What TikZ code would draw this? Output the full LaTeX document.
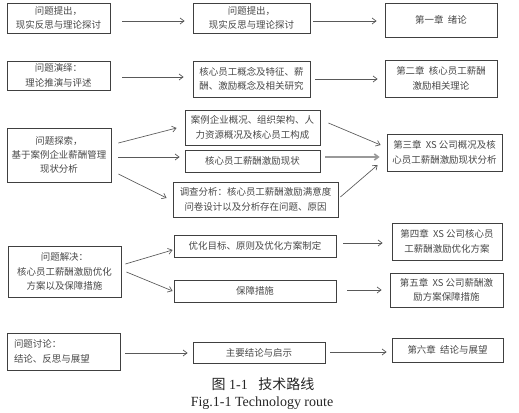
\documentclass[tikz,border=0pt]{standalone}
\usepackage{fontspec}
\setmainfont{Liberation Serif}
\newfontfamily\cjk{Noto Sans CJK SC}
\usetikzlibrary{arrows.meta,calc}
\tikzset{
  box/.style={draw=black!75, line width=0.6pt, inner sep=0pt, align=center,
    font=\cjk\fontsize{7.1}{10.8}\selectfont, text=black!72},
  arr/.style={draw=black!65, line width=0.5pt, -{Straight Barb[length=3pt,width=4.5pt]}},
  thickarr/.style={draw=black!40, line width=1.2pt, -{Straight Barb[length=3pt,width=4.5pt]}},
  captext/.style={inner sep=0pt, text=black!85}
}
\newcommand\rbox[6]{\node[box,minimum width={(#4-#2)*0.75pt},minimum height={(#5-#3)*0.75pt}] (#1) at ({(#2+#4)/2},{(#3+#5)/2}) {#6};}
\begin{document}
\begin{tikzpicture}[x=0.75pt,y=-0.75pt]
\useasboundingbox (0,0) rectangle (519,413);
% row 1
\rbox{A1}{7}{3}{110}{33}{问题提出，\\现实反思与理论探讨}
\rbox{B1}{193}{3}{310}{33}{问题提出，\\现实反思与理论探讨}
\rbox{C1}{385}{3}{497}{37}{第一章\ \ 绪论}
% row 2
\rbox{A2}{7}{61}{110}{90}{问题演绎：\\理论推演与评述}
\rbox{B2}{193}{61}{310}{97}{核心员工概念及特征、薪\\酬、激励概念及相关研究}
\rbox{C2}{385}{60}{497}{97}{第二章\ \ 核心员工薪酬\\激励相关理论}
% row 3
\rbox{A3}{7}{128}{111}{182}{问题探索，\\基于案例企业薪酬管理\\现状分析}
\rbox{B3a}{185}{110}{320}{145}{案例企业概况、组织架构、人\\力资源概况及核心员工构成}
\rbox{B3b}{185}{150}{320}{172}{核心员工薪酬激励现状}
\rbox{B3c}{173}{182}{338}{217}{调查分析：核心员工薪酬激励满意度\\问卷设计以及分析存在问题、原因}
\rbox{C3}{387}{134}{502}{171}{第三章\ \ XS 公司概况及核\\心员工薪酬激励现状分析}
% row 4
\rbox{A4}{8}{246}{121}{297}{问题解决：\\核心员工薪酬激励优化\\方案以及保障措施}
\rbox{B4a}{174}{235}{336}{257}{优化目标、原则及优化方案制定}
\rbox{B4b}{174}{280}{336}{302}{保障措施}
\rbox{C4a}{392}{223}{502}{260}{第四章\ \ XS 公司核心员\\工薪酬激励优化方案}
\rbox{C4b}{390}{273}{503}{307}{第五章\ \ XS 公司薪酬激\\励方案保障措施}
% row 5
\node[box, align=left, inner xsep={7*0.75pt}, text width={(113-14)*0.75pt}, minimum height={37*0.75pt}] (A5) at (63.5,351.5) {问题讨论：\\结论、反思与展望};
\rbox{B5}{193}{342}{325}{363}{主要结论与启示}
\rbox{C5}{392}{338}{503}{362}{第六章\ \ 结论与展望}
% arrows
\draw[arr] ($(A1.east)+(12,3)$) -- ($(B1.west)+(-8,3)$);
\draw[arr] ($(B1.east)+(3,3)$) -- ($(C1.west)+(-8,1)$);
\draw[arr] ($(A2.east)+(12,1.5)$) -- ($(B2.west)+(-9,-2)$);
\draw[arr] ($(B2.east)+(5,0)$) -- ($(C2.west)+(-7,0.5)$);
\draw[arr] ($(A3.east)+(7,-12)$) -- ($(B3a.west)+(-8,0.5)$);
\draw[arr] ($(A3.east)+(7,2)$) -- ($(B3b.west)+(-5,-4)$);
\draw[arr] ($(A3.east)+(7,19)$) -- ($(B3c.west)+(-6,-1.5)$);
\draw[arr] ($(B3a.east)+(8,-4.5)$) -- ($(C3.west)+(-6,-7.5)$);
\draw[thickarr] ($(B3b.east)+(5,-4)$) -- ($(C3.west)+(-7,4.5)$);
\draw[arr] ($(B3c.east)+(2,-2.5)$) -- ($(C3.west)+(-9,12.5)$);
\draw[arr] ($(A4.east)+(4,-7.5)$) -- ($(B4a.west)+(-1,4)$);
\draw[arr] ($(A4.east)+(5,0.5)$) -- ($(B4b.west)+(-1,0)$);
\draw[arr] ($(B4a.east)+(7,-3)$) -- ($(C4a.west)+(-9,1.5)$);
\draw[arr] ($(B4b.east)+(11,-1)$) -- ($(C4b.west)+(-8,0)$);
\draw[arr] ($(A5.east)+(5,1.5)$) -- ($(B5.west)+(-5,0.5)$);
\draw[arr] ($(B5.east)+(5,-0.5)$) -- ($(C5.west)+(-5,2)$);
% caption
\node[captext, font=\fontsize{10.5}{12}\selectfont] (cap1) at (263,384) {{\cjk 图}\ 1-1\ \ \ {\cjk 技术路线}};
\node[captext, font=\fontsize{10.5}{12}\selectfont] (cap2) at (262,403) {Fig.1-1 Technology route};
\end{tikzpicture}
\end{document}
